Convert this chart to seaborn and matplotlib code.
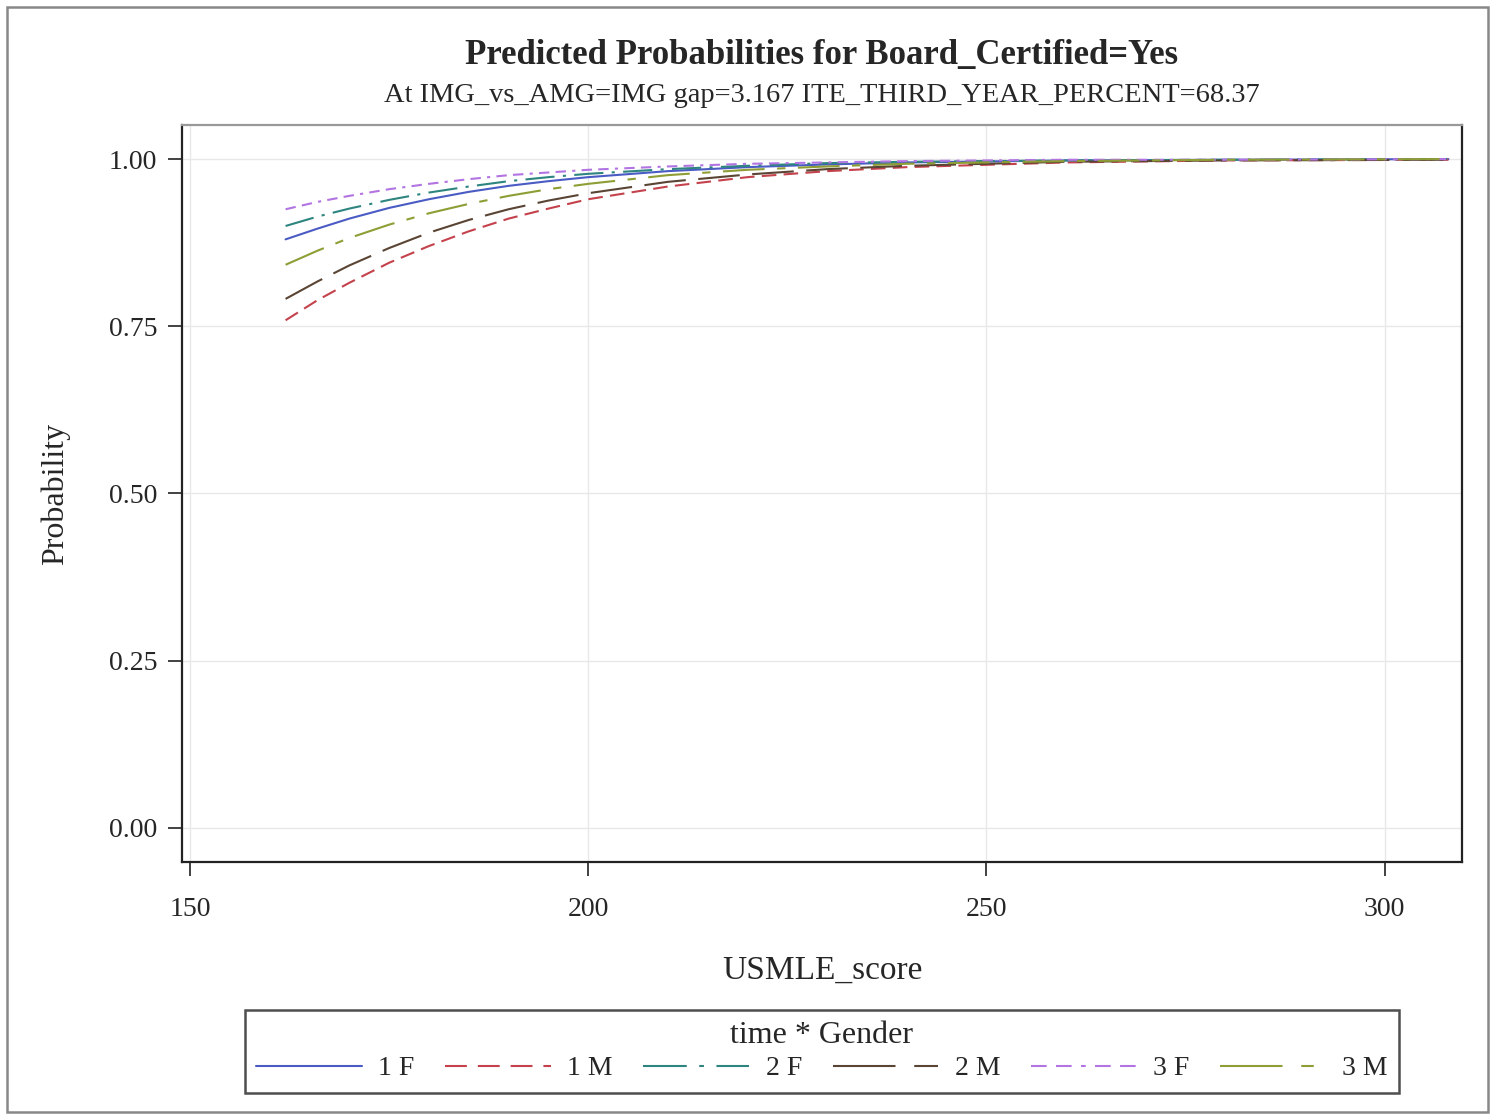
import numpy as np
import pandas as pd
import seaborn as sns
import matplotlib.pyplot as plt
from matplotlib.patches import Rectangle
from matplotlib.lines import Line2D

# USMLE score grid and predicted probabilities
usmle = [162, 166, 170, 175, 180, 185, 190, 195, 200, 210, 220, 230, 240, 260, 280, 308]
p_1F = [0.880, 0.896, 0.911, 0.927, 0.940, 0.951, 0.960, 0.967, 0.973, 0.982, 0.988, 0.992, 0.995, 0.998, 0.999, 1.000]
p_1M = [0.759, 0.789, 0.815, 0.845, 0.870, 0.892, 0.911, 0.926, 0.940, 0.959, 0.973, 0.982, 0.988, 0.995, 0.998, 0.999]
p_2F = [0.900, 0.914, 0.926, 0.939, 0.950, 0.959, 0.967, 0.973, 0.978, 0.985, 0.990, 0.994, 0.996, 0.998, 0.999, 1.000]
p_2M = [0.791, 0.817, 0.841, 0.867, 0.890, 0.909, 0.925, 0.938, 0.949, 0.966, 0.977, 0.985, 0.990, 0.996, 0.998, 0.999]
p_3F = [0.925, 0.936, 0.945, 0.955, 0.963, 0.970, 0.976, 0.980, 0.984, 0.989, 0.993, 0.995, 0.997, 0.999, 0.999, 1.000]
p_3M = [0.842, 0.863, 0.882, 0.902, 0.919, 0.933, 0.945, 0.955, 0.963, 0.976, 0.984, 0.989, 0.993, 0.997, 0.999, 1.000]
groups = ["1 F", "1 M", "2 F", "2 M", "3 F", "3 M"]

series = {"1 F": p_1F, "1 M": p_1M, "2 F": p_2F, "2 M": p_2M, "3 F": p_3F, "3 M": p_3M}
df = pd.concat([pd.DataFrame({"USMLE_score": usmle, "Probability": v, "grp": k})
                for k, v in series.items()])

colors = {"1 F": "#4a5cc4", "1 M": "#c4424c", "2 F": "#2e8580",
          "2 M": "#5a4434", "3 F": "#b274e2", "3 M": "#8e9e34"}
# dash lengths are in units of line width
dashes = {"1 F": "", "1 M": (7, 3.5), "2 F": (14, 4, 1.5, 4), "2 M": (20, 6),
          "3 F": (5, 3, 5, 3, 1.5, 3), "3 M": (20, 6, 4, 6)}

sns.set_style("white")
plt.rcParams['font.family'] = ['Liberation Serif', 'DejaVu Serif']

fig = plt.figure(figsize=(14.97, 11.16), dpi=100)
ax = fig.add_axes([0.1216, 0.2276, 0.855, 0.6604])

lw = 1.5
sns.lineplot(data=df, x="USMLE_score", y="Probability", hue="grp", style="grp",
             palette=colors, dashes=dashes, hue_order=groups, style_order=groups,
             linewidth=lw, ax=ax, legend=False)

ax.set_xlim(149, 309.7)
ax.set_ylim(-0.051, 1.051)
ax.set_xticks([150, 200, 250, 300])
ax.set_yticks([0, 0.25, 0.5, 0.75, 1.0])
ax.set_yticklabels(["0.00", "0.25", "0.50", "0.75", "1.00"])
ax.grid(True, color="#e8e8e8", linewidth=1)
ax.set_axisbelow(True)
ax.tick_params(axis="both", direction="out", length=10, width=1.3, labelsize=20,
               color="#333333", bottom=True, left=True)
ax.tick_params(axis="x", pad=15)
ax.tick_params(axis="y", pad=8)
for s in ax.spines.values():
    s.set_color("#222222")
    s.set_linewidth(1.6)
ax.spines["top"].set_color("#999999")

ax.set_xlabel("USMLE_score", fontsize=24, labelpad=24)
ax.set_ylabel("Probability", fontsize=23, labelpad=28)

fig.text(0.549, 0.950, "Predicted Probabilities for Board_Certified=Yes",
         ha="center", va="center", fontsize=25, fontweight="bold")
fig.text(0.549, 0.914, "At IMG_vs_AMG=IMG gap=3.167 ITE_THIRD_YEAR_PERCENT=68.37",
         ha="center", va="center", fontsize=20.5)

handles = []
for g in groups:
    ls = "-" if dashes[g] == "" else (0, tuple(d * lw for d in dashes[g]))
    handles.append(Line2D([0], [0], color=colors[g], linestyle=ls, linewidth=lw))
leg = fig.legend(handles, groups, loc="lower center", bbox_to_anchor=(0.549, 0.021),
                 ncol=6, title="time * Gender", fontsize=20, title_fontsize=23,
                 frameon=True, fancybox=False, edgecolor="#222222",
                 handlelength=3.8, columnspacing=1.1, handletextpad=0.6,
                 borderpad=0.4, labelspacing=0.2, borderaxespad=0)
leg.get_frame().set_linewidth(1.8)

fig.patches.append(Rectangle((0.005, 0.004), 0.989, 0.99, transform=fig.transFigure,
                             fill=False, edgecolor="#888888", linewidth=1.8))

fig.savefig("out.png", dpi=100, facecolor="white")
